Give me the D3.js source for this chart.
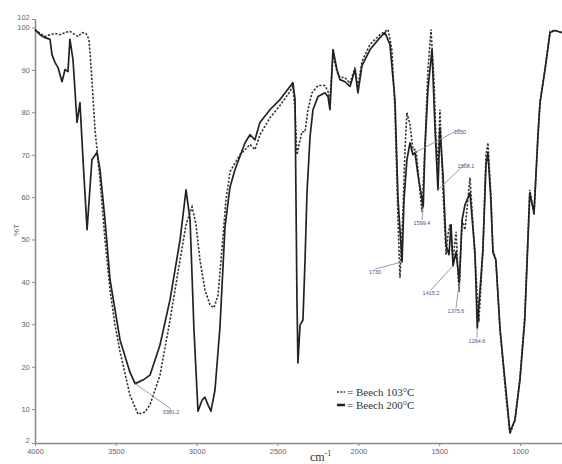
<!DOCTYPE html>
<html><head><meta charset="utf-8">
<script src="https://cdn.jsdelivr.net/npm/d3@7"></script>
<style>body{margin:0;background:#fff}svg{display:block}</style>
</head><body>
<script>
// ---- data (wavenumber cm-1, %T) ----
const solidWn = [4000,3969,3938,3907,3895,3876,3858,3833,3814,3796,3784,3765,3740,3722,3703,3678,3648,3617,3598,3567,3536,3474,3413,3381,3330,3289,3227,3165,3103,3066,3041,3017,2992,2967,2949,2930,2912,2887,2856,2825,2794,2763,2701,2670,2640,2609,2547,2485,2423,2405,2392,2380,2374,2361,2343,2330,2318,2299,2281,2250,2207,2188,2176,2157,2133,2114,2083,2052,2021,2003,1978,1928,1867,1836,1805,1774,1755,1730,1718,1700,1681,1663,1650,1632,1599,1589,1570,1545,1526,1508,1496,1477,1458,1440,1427,1415,1396,1376,1359,1341,1310,1279,1265,1230,1211,1199,1181,1168,1150,1124,1094,1063,1032,1001,971,940,914,890,877,846,815,784,741];
const solidT  = [99.5,98.3,97.6,97.2,93.6,91.7,90.6,87.2,90.1,89.6,97.2,92.4,77.6,82.3,68.8,52.3,68.8,70.5,66.5,54.6,40.5,26.3,18.7,16.0,16.9,18.0,25.1,35.8,49.9,61.7,54.6,28.7,9.5,12.1,12.8,11.0,9.5,14.5,29.4,53.0,62.4,66.5,72.8,74.7,73.5,77.6,80.6,83.0,86.1,87.0,83.0,35.8,20.9,29.8,31.0,45.2,61.0,74.3,80.6,83.7,84.6,83.7,80.6,94.8,90.1,87.7,87.2,86.1,90.1,84.6,91.0,94.8,97.6,98.8,96.0,83.0,59.4,44.7,59.4,68.8,72.8,70.0,70.5,65.3,57.7,71.2,85.4,94.8,75.9,61.7,76.4,65.3,48.7,46.4,53.5,43.8,47.1,39.8,54.6,58.2,61.0,46.9,29.1,47.6,67.6,70.5,59.4,46.9,45.2,28.7,16.9,4.6,7.4,16.9,31.0,61.0,56.3,74.3,82.3,90.1,98.8,99.3,98.8];

const dashWn = [4000,3969,3938,3907,3876,3845,3814,3784,3753,3734,3709,3685,3666,3648,3629,3610,3598,3567,3536,3505,3474,3413,3363,3320,3289,3227,3165,3103,3066,3029,3004,2980,2949,2918,2893,2868,2844,2819,2794,2732,2670,2640,2609,2547,2485,2423,2405,2392,2380,2367,2349,2330,2312,2287,2250,2207,2188,2176,2157,2133,2114,2083,2052,2021,2003,1978,1928,1867,1817,1793,1774,1755,1743,1724,1712,1700,1681,1663,1644,1626,1607,1589,1570,1551,1533,1520,1508,1496,1477,1458,1446,1434,1415,1396,1378,1359,1341,1310,1286,1255,1230,1211,1199,1181,1168,1150,1124,1094,1063,1032,1001,971,940,914,890,877,846,815,784,741];
const dashT  = [99.5,98.6,97.9,98.3,98.6,98.3,98.8,99.1,98.3,97.9,98.8,98.6,97.2,87.7,75.9,68.8,64.1,49.9,38.1,29.8,23.5,13.3,8.8,9.3,11.0,18.0,31.0,45.2,53.5,57.7,53.5,45.2,38.1,34.6,33.9,36.9,47.6,59.4,66.0,70.0,72.4,71.2,74.7,78.7,81.6,84.9,86.3,80.6,70.0,72.4,75.4,75.4,80.6,84.6,86.3,86.3,84.9,83.0,93.6,89.6,88.2,88.2,86.8,90.6,85.8,92.0,96.0,98.3,99.5,94.8,80.6,54.6,40.9,57.0,71.2,79.9,77.1,71.2,71.2,64.1,56.5,71.2,90.1,99.5,87.7,73.5,67.6,80.6,61.7,46.4,51.1,53.5,45.2,51.8,37.6,54.6,52.3,64.6,49.9,30.6,47.6,69.9,72.8,60.6,47.6,45.2,28.7,15.7,4.1,7.4,17.3,32.2,61.7,55.8,74.3,82.3,90.1,99.1,99.3,98.8];

const yTicks = [2,10,20,30,40,50,60,70,80,90,100,102];
const xTicks = [4000,3500,3000,2500,2000,1500,1000];

// annotations
const annLabels = ["3381.2","1650","1599.4","1508.1","1730","1415.2","1375.6","1264.6"];
const annWn     = [3381,1650,1599,1508,1730,1415,1376,1265];
const annT      = [16.0,70.5,57.7,61.7,44.7,43.8,39.8,29.1];
const annTextX  = [171,460,422,466,375,431,456,477];
const annTextY  = [412,132,223,166,272,293,311,341];

const legendLabels = ["= Beech 103\u00B0C","= Beech 200\u00B0C"];

// ---- drawing ----
const W = 562, H = 464;
const svg = d3.select("body").append("svg").attr("width",W).attr("height",H);
const x = d3.scaleLinear().domain([4000,741]).range([35,562]);
const y = d3.scaleLinear().domain([2,102]).range([443,19]);

const axisColor = "#8a8a8a";
const yAxis = svg.append("g").attr("transform","translate(35,0)")
  .call(d3.axisLeft(y).tickValues(yTicks).tickSize(3).tickSizeOuter(0).tickFormat(d3.format("d")));
const xAxis = svg.append("g").attr("transform","translate(0,443)")
  .call(d3.axisBottom(x).tickValues(xTicks).tickSize(3).tickSizeOuter(0).tickFormat(d3.format("d")));
[yAxis,xAxis].forEach(g=>{
  g.select(".domain").attr("stroke",axisColor).attr("stroke-width",1.6);
  g.selectAll(".tick line").attr("stroke",axisColor);
  g.selectAll(".tick text").attr("fill","#666").attr("font-family","Liberation Sans, Arial, sans-serif").attr("font-size",7.5);
});
xAxis.selectAll(".tick text").attr("dy","0.6em");
yAxis.selectAll(".tick text").attr("dx","0.1em");
// lift the bottom "2" label and top "102" slightly so they don't collide
yAxis.selectAll(".tick").filter(d=>d===2).select("text").attr("dy","-0.05em");
yAxis.selectAll(".tick").filter(d=>d===102).select("text").attr("dy","0.1em");

svg.append("text").attr("transform","translate(19,230) rotate(-90)")
  .attr("text-anchor","middle").attr("font-family","Liberation Sans, Arial, sans-serif")
  .attr("font-size",8).attr("fill","#666").text("%T");

const cm = svg.append("text").attr("x",310).attr("y",461)
  .attr("font-family","Liberation Serif, Times New Roman, serif").attr("font-size",12).attr("fill","#333");
cm.append("tspan").text("cm");
cm.append("tspan").attr("dy",-5).attr("font-size",8).text("-1");

const line = (wn,t) => d3.line().x((d,i)=>x(wn[i])).y((d,i)=>y(t[i]))(wn);

svg.append("path").attr("d",line(dashWn,dashT)).attr("fill","none")
  .attr("stroke","#333").attr("stroke-width",1.6).attr("stroke-dasharray","2.2,1.6");
svg.append("path").attr("d",line(solidWn,solidT)).attr("fill","none")
  .attr("stroke","#222").attr("stroke-width",1.7).attr("stroke-linejoin","round");

// annotations
annLabels.forEach((lab,i)=>{
  const px = x(annWn[i]), py = y(annT[i]);
  const tx = annTextX[i], ty = annTextY[i];
  svg.append("line").attr("x1",px).attr("y1",py).attr("x2",tx).attr("y2",ty-3)
    .attr("stroke","#8c8fb0").attr("stroke-width",0.9);
  svg.append("text").attr("x",tx).attr("y",ty+2).attr("text-anchor","middle")
    .attr("font-family","Liberation Sans, Arial, sans-serif").attr("font-size",5.5)
    .attr("fill","#4d4d99").text(lab);
});

// legend
const lg = svg.append("g");
lg.append("line").attr("x1",337).attr("x2",345).attr("y1",392).attr("y2",392)
  .attr("stroke","#333").attr("stroke-width",1.6).attr("stroke-dasharray","2,1.3");
lg.append("line").attr("x1",337).attr("x2",345).attr("y1",405).attr("y2",405)
  .attr("stroke","#222").attr("stroke-width",2.5);
legendLabels.forEach((l,i)=>{
  lg.append("text").attr("x",347).attr("y",396+i*13)
    .attr("font-family","Liberation Serif, Times New Roman, serif").attr("font-size",11)
    .attr("fill","#333").text(l);
});
</script>
</body></html>
